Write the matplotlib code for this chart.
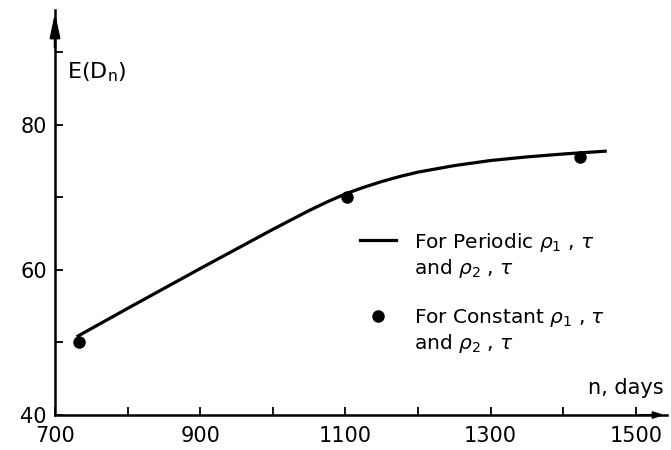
import numpy as np
import matplotlib
matplotlib.use("Agg")
import matplotlib.pyplot as plt
from matplotlib.lines import Line2D
from matplotlib.legend_handler import HandlerLine2D

# curve (periodic rho, tau)
n_curve = [730, 800, 900, 950, 1000, 1025, 1050, 1075, 1100, 1125, 1150, 1175, 1200,
           1250, 1300, 1350, 1400, 1460]
e_curve = [50.8, 54.7, 60.2, 62.9, 65.6, 66.9, 68.2, 69.4, 70.5, 71.4, 72.2, 72.9, 73.5,
           74.4, 75.1, 75.6, 76.0, 76.4]

# points (constant rho, tau)
n_pts = [733, 1102, 1423]
e_pts = [50.1, 70.1, 75.6]

x_ticks = [700, 800, 900, 1000, 1100, 1200, 1300, 1400, 1500]
x_labels = ["700", "", "900", "", "1100", "", "1300", "", "1500"]
y_ticks = [40, 50, 60, 70, 80, 90]
y_labels = ["40", "", "60", "", "80", ""]

lab_line = "For Periodic $\\rho_1$ , $\\tau$\nand $\\rho_2$ , $\\tau$"
lab_pts = "For Constant $\\rho_1$ , $\\tau$\nand $\\rho_2$ , $\\tau$"


# legend key sits at the first text line, not in the middle of the two lines
class UpHandler(HandlerLine2D):
    def create_artists(self, legend, orig_handle, xdescent, ydescent,
                       width, height, fontsize, trans):
        arts = super().create_artists(legend, orig_handle, xdescent, ydescent,
                                      width, height, fontsize, trans)
        for a in arts:
            a.set_ydata(np.asarray(a.get_ydata()) + 0.78 * fontsize)
        return arts


fig = plt.figure(figsize=(6.71, 4.5), dpi=100)
ax = fig.add_axes([55 / 671, 35 / 450, 612 / 671, 405 / 450])

ax.plot(n_curve, e_curve, color="black", lw=2.3, solid_capstyle="butt")
ax.plot(n_pts, e_pts, "o", color="black", ms=8)

ax.set_xlim(700, 700 + 612 / 0.726)
ax.set_ylim(40, 40 + 405 / 7.25)

for s in ["top", "right"]:
    ax.spines[s].set_visible(False)
for s in ["left", "bottom"]:
    ax.spines[s].set_linewidth(1.8)

ax.set_xticks(x_ticks)
ax.set_xticklabels(x_labels)
ax.set_yticks(y_ticks)
ax.set_yticklabels(y_labels)
ax.tick_params(axis="x", direction="in", length=6, width=1.3, pad=8, labelsize=15)
ax.tick_params(axis="y", direction="in", length=6, width=1.3, pad=6, labelsize=15)

# arrow heads on the axes
ax.annotate("", xy=(0, 1.0), xytext=(0, 0.9), xycoords="axes fraction",
            arrowprops=dict(arrowstyle="-|>,head_length=1.4,head_width=0.3",
                            color="black", lw=1.8))
ax.annotate("", xy=(1.0, 0), xytext=(0.95, 0), xycoords="axes fraction",
            arrowprops=dict(arrowstyle="-|>,head_length=0.6,head_width=0.2",
                            color="black", lw=1.5))

ax.set_ylabel("E(D$_\\mathregular{n}$)", rotation=0, fontsize=16, ha="left", va="center")
ax.yaxis.set_label_coords(0.02, 0.847)
ax.set_xlabel("n, days", fontsize=15, ha="right", va="center")
ax.xaxis.set_label_coords(0.995, 0.067)

h_line = Line2D([], [], color="black", lw=2.3)
h_pts = Line2D([], [], color="black", marker="o", ls="none", ms=8)
leg = ax.legend([h_line, h_pts], [lab_line, lab_pts],
                handler_map={h_line: UpHandler(), h_pts: UpHandler()},
                loc="upper left", bbox_to_anchor=(360 / 671, 1 - 231 / 450),
                bbox_transform=fig.transFigure, frameon=False, fontsize=14.5,
                handlelength=1.8, handletextpad=0.9, labelspacing=1.3,
                borderpad=0, borderaxespad=0)

fig.savefig("out.png", dpi=100)
